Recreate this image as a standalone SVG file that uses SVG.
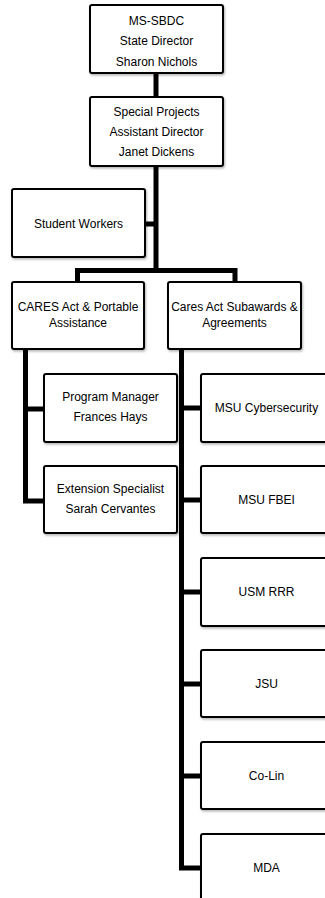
<svg xmlns="http://www.w3.org/2000/svg" width="325" height="898" viewBox="0 0 325 898">
<style>
.box{fill:#fff;stroke:#000;stroke-width:2;filter:url(#sh)}
.t{font-family:"Liberation Sans",Arial,sans-serif;font-size:12px;fill:#000;text-anchor:middle}
.c{fill:none;stroke:#000;stroke-width:5;stroke-linejoin:miter;stroke-linecap:butt}
</style>
<defs>
<filter id="sh" x="-10%" y="-10%" width="120%" height="130%">
<feDropShadow dx="1" dy="1.5" stdDeviation="1" flood-color="#000" flood-opacity="0.3"/>
</filter>
</defs>
<rect width="325" height="898" fill="#fff"/>
<g id="connectors">
<path class="c" d="M156 73 V97"/>
<path class="c" d="M156 166 V270.5"/>
<path class="c" d="M145 224 H156"/>
<path class="c" d="M77.5 282 V270.5 H235 V282"/>
<path class="c" d="M25.5 349 V501 H44"/>
<path class="c" d="M25.5 409 H44"/>
<path class="c" d="M181.5 349 V868 H201"/>
<path class="c" d="M181.5 408 H201 M181.5 500 H201 M181.5 592 H201 M181.5 684 H201 M181.5 776 H201"/>
</g>
<g id="n-director"><rect class="box" x="90" y="5" width="133" height="68" rx="2"/>
<text class="t" x="156.5" y="25">MS-SBDC</text><text class="t" x="156.5" y="45">State Director</text><text class="t" x="156.5" y="66">Sharon Nichols</text></g>
<g id="n-assistant"><rect class="box" x="90" y="97" width="133" height="69" rx="2"/>
<text class="t" x="156.5" y="116">Special Projects</text><text class="t" x="156.5" y="136">Assistant Director</text><text class="t" x="156.5" y="156">Janet Dickens</text></g>
<g id="n-students"><rect class="box" x="12" y="189" width="133" height="68" rx="2"/>
<text class="t" x="78.5" y="228">Student Workers</text></g>
<g id="n-cares"><rect class="box" x="12" y="282" width="132" height="67" rx="2"/>
<text class="t" x="78" y="311">CARES Act &amp; Portable</text><text class="t" x="78" y="327">Assistance</text></g>
<g id="n-subawards"><rect class="box" x="168" y="282" width="133" height="67" rx="2"/>
<text class="t" x="234.5" y="311">Cares Act Subawards &amp;</text><text class="t" x="234.5" y="327">Agreements</text></g>
<g id="n-pm"><rect class="box" x="44" y="374" width="133" height="68" rx="2"/>
<text class="t" x="110.5" y="401">Program Manager</text><text class="t" x="110.5" y="421">Frances Hays</text></g>
<g id="n-ext"><rect class="box" x="44" y="466" width="133" height="67" rx="2"/>
<text class="t" x="110.5" y="493">Extension Specialist</text><text class="t" x="110.5" y="513">Sarah Cervantes</text></g>
<g id="n-msucyber"><rect class="box" x="201" y="374" width="133" height="68" rx="2"/>
<text class="t" x="266.5" y="412">MSU Cybersecurity</text></g>
<g id="n-fbei"><rect class="box" x="201" y="466" width="133" height="67" rx="2"/>
<text class="t" x="266.5" y="504">MSU FBEI</text></g>
<g id="n-usm"><rect class="box" x="201" y="558" width="133" height="68" rx="2"/>
<text class="t" x="266.5" y="596">USM RRR</text></g>
<g id="n-jsu"><rect class="box" x="201" y="650" width="133" height="67" rx="2"/>
<text class="t" x="266.5" y="688">JSU</text></g>
<g id="n-colin"><rect class="box" x="201" y="742" width="133" height="67" rx="2"/>
<text class="t" x="266.5" y="780">Co-Lin</text></g>
<g id="n-mda"><rect class="box" x="201" y="834" width="133" height="68" rx="2"/>
<text class="t" x="266.5" y="872">MDA</text></g>
</svg>
